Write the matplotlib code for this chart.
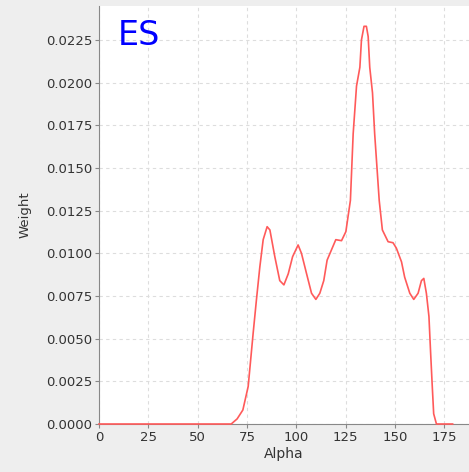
import matplotlib.pyplot as plt
import numpy as np

# weight distribution over alpha
alpha = [0, 60, 67, 70, 72.9, 75.6, 78.1, 79.8, 81.5, 83.2, 85.2, 86.6, 89.1, 91.6,
         93.7, 95.9, 98.1, 100.9, 102.6, 105.2, 107.7, 109.9, 111.9, 113.9, 115.6,
         117.8, 120.0, 122.9, 125.1, 126.2, 127.4, 128.8, 130.5, 132.2, 133.0, 134.3,
         135.5, 136.4, 137.2, 138.6, 139.7, 142.0, 143.6, 146.5, 149.0, 150.7, 153.3,
         154.9, 157.5, 159.5, 161.7, 163.4, 164.6, 165.9, 167.2, 168.0, 168.8, 169.6,
         171.0, 179.2]
weight = [0, 0, 0, 0.0003, 0.00082, 0.0022, 0.0053, 0.0073, 0.0092, 0.0108, 0.01156,
          0.01137, 0.0098, 0.0084, 0.00815, 0.0088, 0.0098, 0.01049, 0.0100, 0.0088,
          0.00766, 0.0073, 0.00766, 0.0084, 0.0096, 0.0102, 0.0108, 0.01074, 0.01127,
          0.01215, 0.0131, 0.0170, 0.0198, 0.0209, 0.0225, 0.0233, 0.0233, 0.0227,
          0.0209, 0.0194, 0.0170, 0.0131, 0.01137, 0.01068, 0.01062, 0.0103, 0.0095,
          0.0086, 0.00766, 0.0073, 0.00766, 0.0084, 0.00853, 0.00766, 0.0063, 0.0043,
          0.0024, 0.0006, 0, 0]

xticks = [0, 25, 50, 75, 100, 125, 150, 175]
yticks = np.arange(0, 0.0226, 0.0025)

fig = plt.figure(figsize=(4.69, 4.72), dpi=100, facecolor='#eeeeee')
ax = fig.add_axes([99/469, 48/472, 370/469, 418/472])
ax.set_facecolor('white')

ax.plot(alpha, weight, color='#ff5a5a', linewidth=1.2, clip_on=False, zorder=5)

ax.set_xlim(0, 187.5)
ax.set_ylim(0, 0.02449)
ax.set_xticks(xticks)
ax.set_yticks(yticks)
ax.set_yticklabels(['%.4f' % v for v in yticks])
ax.grid(True, color='#dddddd', linestyle=(0, (3, 3)), linewidth=0.8)

for s in ['top', 'right']:
    ax.spines[s].set_visible(False)
for s in ['left', 'bottom']:
    ax.spines[s].set_color('#888888')
ax.tick_params(axis='both', length=3, color='#888888', labelsize=9.5,
               labelcolor='#333333', pad=2)

ax.set_xlabel('Alpha', fontsize=10, color='#333333', labelpad=2)
ax.set_ylabel('Weight', fontsize=9.5, color='#333333', labelpad=10)

ax.text(0.05, 0.97, 'ES', transform=ax.transAxes, color='#0000ff',
        fontsize=24, va='top', ha='left')

fig.savefig('out.png', dpi=100, facecolor=fig.get_facecolor())
